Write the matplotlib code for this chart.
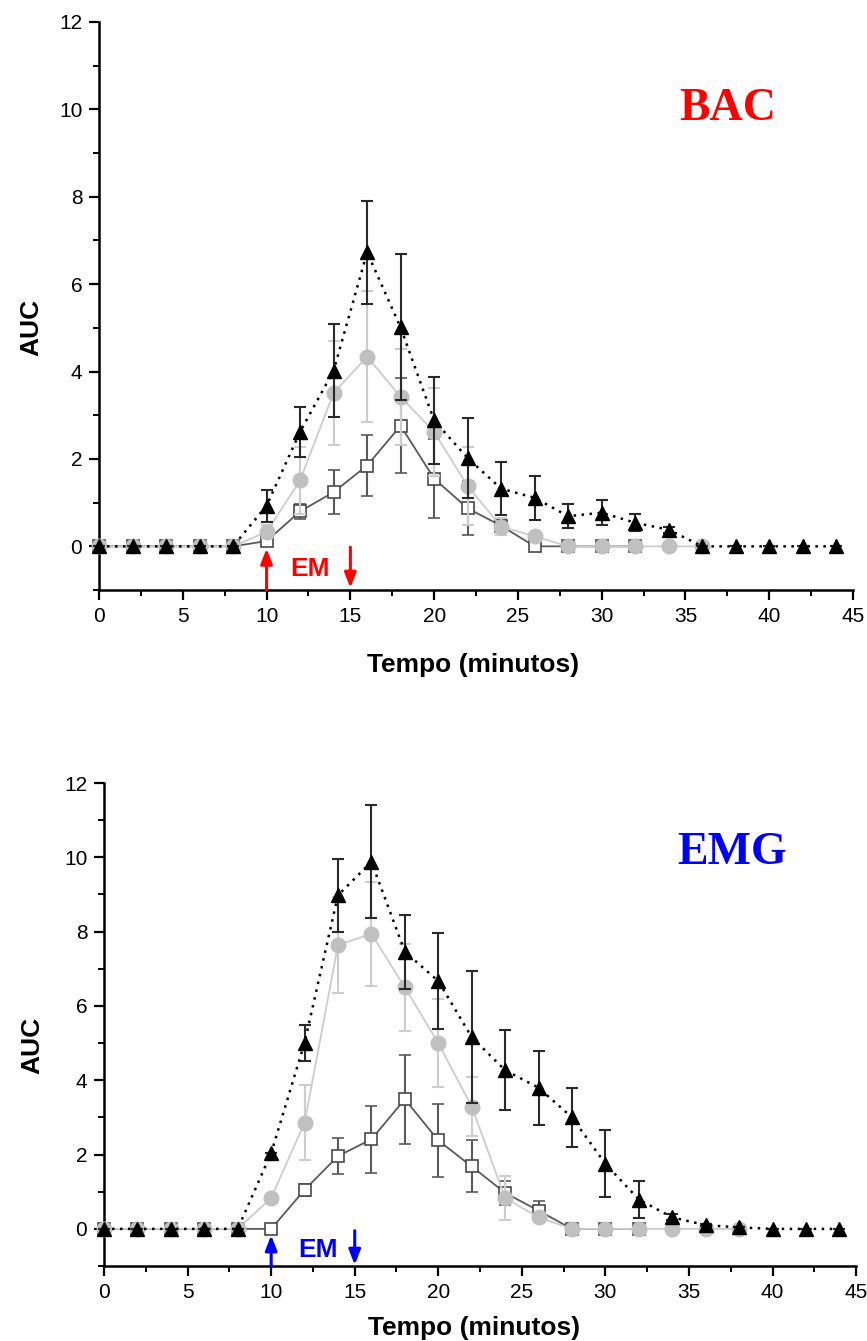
import matplotlib
matplotlib.use("Agg")
import matplotlib.pyplot as plt
from matplotlib.ticker import MultipleLocator

# ---------------- data ----------------
t_all = list(range(0, 46, 2))          # 0..44

# BAC panel
bac_tri = [0, 0, 0, 0, 0, 0.93, 2.62, 4.02, 6.73, 5.01, 2.88, 2.02, 1.32, 1.11, 0.69, 0.77, 0.54, 0.38, 0, 0, 0, 0, 0]
bac_tri_err = [0, 0, 0, 0, 0, 0.37, 0.58, 1.07, 1.18, 1.67, 1.00, 0.91, 0.60, 0.50, 0.28, 0.28, 0.20, 0.07, 0, 0, 0, 0, 0]
bac_circ = [0, 0, 0, 0, 0, 0.33, 1.51, 3.51, 4.34, 3.42, 2.62, 1.38, 0.45, 0.23, 0, 0, 0, 0, 0]
bac_circ_err = [0, 0, 0, 0, 0, 0.15, 0.76, 1.19, 1.50, 1.10, 1.00, 0.90, 0.20, 0.05, 0, 0, 0, 0, 0]
bac_sq = [0, 0, 0, 0, 0, 0.12, 0.80, 1.24, 1.85, 2.76, 1.55, 0.87, 0.47, 0, 0, 0, 0]
bac_sq_err = [0, 0, 0, 0, 0, 0.10, 0.18, 0.50, 0.70, 1.09, 0.90, 0.62, 0.15, 0, 0, 0, 0]

# EMG panel
emg_tri = [0, 0, 0, 0, 0, 2.04, 5.01, 8.98, 9.88, 7.46, 6.67, 5.16, 4.27, 3.80, 3.00, 1.75, 0.79, 0.31, 0.10, 0.04, 0, 0, 0]
emg_tri_err = [0, 0, 0, 0, 0, 0, 0.48, 0.98, 1.52, 1.00, 1.30, 1.78, 1.08, 1.00, 0.80, 0.90, 0.50, 0.08, 0.03, 0, 0, 0, 0]
emg_circ = [0, 0, 0, 0, 0, 0.83, 2.86, 7.64, 7.94, 6.50, 5.00, 3.29, 0.83, 0.31, 0, 0, 0, 0, 0, 0]
emg_circ_err = [0, 0, 0, 0, 0, 0.05, 1.00, 1.30, 1.40, 1.18, 1.18, 0.80, 0.60, 0.10, 0, 0, 0, 0, 0, 0]
emg_sq = [0, 0, 0, 0, 0, 0, 1.05, 1.96, 2.41, 3.49, 2.38, 1.68, 0.97, 0.49, 0, 0, 0]
emg_sq_err = [0, 0, 0, 0, 0, 0, 0.17, 0.49, 0.90, 1.20, 0.99, 0.70, 0.32, 0.25, 0, 0, 0]

x_ticks = [0, 5, 10, 15, 20, 25, 30, 35, 40, 45]
y_ticks = [0, 2, 4, 6, 8, 10, 12]

SANS = "Liberation Sans"
SERIF = "Liberation Serif"

fig = plt.figure(figsize=(8.67, 13.41), dpi=100)
ax1 = fig.add_axes([0.1142, 0.5600, 0.8697, 0.4236])
ax2 = fig.add_axes([0.1200, 0.0559, 0.8674, 0.3602])


def panel(ax, tri, tri_e, circ, circ_e, sq, sq_e, title, tcol, tpos, arrows, empos):
    n_sq = len(sq)
    n_c = len(circ)
    # squares (open)
    ax.errorbar(t_all[:n_sq], sq, yerr=sq_e, color="#5a5a5a", lw=1.3, ecolor="#5a5a5a",
                elinewidth=1.5, capsize=4.5, capthick=1.5, marker="s", ms=9,
                mfc="white", mec="#4a4a4a", mew=1.2, zorder=3, clip_on=False)
    # circles (grey)
    ax.errorbar(t_all[:n_c], circ, yerr=circ_e, color="#cdcdcd", lw=1.3, ecolor="#cdcdcd",
                elinewidth=1.5, capsize=4.5, capthick=1.5, marker="o", ms=10.5,
                mfc="#c0c0c0", mec="#c0c0c0", zorder=4, clip_on=False)
    # triangles (black, dotted line)
    ax.errorbar(t_all, tri, yerr=tri_e, color="black", lw=1.8, ls=(0, (1, 2.2)),
                ecolor="#2a2a2a", elinewidth=1.5, capsize=4.5, capthick=1.5,
                marker="^", ms=10, mfc="black", mec="black", zorder=5, clip_on=False)

    ax.set_xlim(0, 45)
    ax.set_ylim(-1, 12)
    ax.set_xticks(x_ticks)
    ax.set_yticks(y_ticks)
    ax.xaxis.set_minor_locator(MultipleLocator(2.5))
    ax.yaxis.set_minor_locator(MultipleLocator(1))
    for s in ("top", "right"):
        ax.spines[s].set_visible(False)
    for s in ("left", "bottom"):
        ax.spines[s].set_linewidth(1.8)
    ax.tick_params(which="major", direction="out", length=7, width=1.6, labelsize=15, pad=5)
    ax.tick_params(which="minor", direction="out", length=4, width=1.4)
    for lab in ax.get_xticklabels() + ax.get_yticklabels():
        lab.set_fontfamily(SANS)
    ax.set_xlabel("Tempo (minutos)", fontsize=19, fontweight="bold", fontfamily=SANS)
    ax.set_ylabel("AUC", fontsize=19, fontweight="bold", fontfamily=SANS)

    ax.text(tpos[0], tpos[1], title, color=tcol, fontsize=33, fontweight="bold",
            fontfamily=SERIF, ha="center", va="center")
    ax.text(empos[0], empos[1], "EM", color=tcol, fontsize=19, fontweight="bold",
            fontfamily=SANS, ha="center", va="center")
    for (x0, y0, x1, y1) in arrows:
        ax.annotate("", xy=(x1, y1), xytext=(x0, y0),
                    arrowprops=dict(arrowstyle="-|>,head_length=0.9,head_width=0.35",
                                    color=tcol, lw=2.2, shrinkA=0, shrinkB=0),
                    annotation_clip=False, zorder=6)


panel(ax1, bac_tri, bac_tri_err, bac_circ, bac_circ_err, bac_sq, bac_sq_err,
      "BAC", "#ff0000", (37.5, 10.02),
      [(10, -1.0, 10, -0.05), (15, -0.02, 15, -0.95)], (12.6, -0.52))
panel(ax2, emg_tri, emg_tri_err, emg_circ, emg_circ_err, emg_sq, emg_sq_err,
      "EMG", "#0000ff", (37.6, 10.12),
      [(10, -1.0, 10, -0.17), (15, -0.05, 15, -0.97)], (12.8, -0.56))

# axis-label placement (axes fractions)
ax1.yaxis.set_label_coords(-0.074, 0.463)
ax2.yaxis.set_label_coords(-0.079, 0.457)
ax1.xaxis.set_label_coords(0.496, -0.110)
ax2.xaxis.set_label_coords(0.492, -0.104)

fig.savefig("out.png", dpi=100)
